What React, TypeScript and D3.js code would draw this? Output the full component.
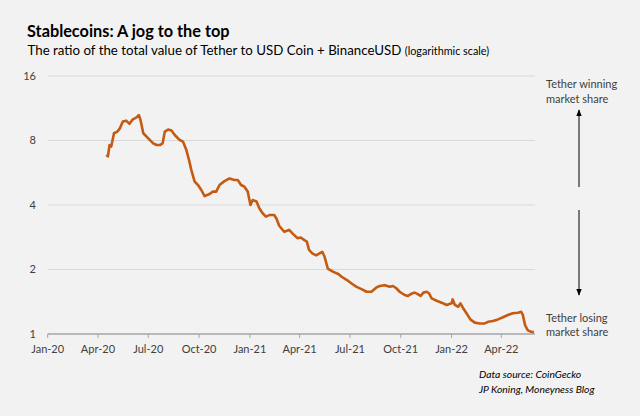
import React from 'react';
import * as d3 from 'd3';

// Tether / (USDC + BUSD) ratio
const dates = [
  '2020-04-16', '2020-04-19', '2020-04-22', '2020-04-25', '2020-04-30', '2020-05-06', '2020-05-10',
  '2020-05-16', '2020-05-22', '2020-05-28', '2020-06-02', '2020-06-10', '2020-06-14', '2020-06-17',
  '2020-06-22', '2020-07-01', '2020-07-10', '2020-07-16', '2020-07-22', '2020-07-27', '2020-07-31',
  '2020-08-06', '2020-08-12', '2020-08-18', '2020-08-27', '2020-09-02', '2020-09-08', '2020-09-13',
  '2020-09-17', '2020-09-23', '2020-09-29', '2020-10-05', '2020-10-11', '2020-10-20', '2020-10-26',
  '2020-11-01', '2020-11-07', '2020-11-16', '2020-11-25', '2020-12-04', '2020-12-10', '2020-12-16',
  '2020-12-22', '2020-12-28', '2021-01-02', '2021-01-06', '2021-01-13', '2021-01-18', '2021-01-24',
  '2021-01-30', '2021-02-05', '2021-02-14', '2021-02-18', '2021-02-23', '2021-03-04', '2021-03-13',
  '2021-03-19', '2021-03-28', '2021-04-03', '2021-04-09', '2021-04-14', '2021-04-18', '2021-04-24',
  '2021-05-01', '2021-05-07', '2021-05-12', '2021-05-16', '2021-05-22', '2021-06-01', '2021-06-10',
  '2021-06-16', '2021-06-25', '2021-07-04', '2021-07-13', '2021-07-22', '2021-07-31', '2021-08-09',
  '2021-08-18', '2021-08-24', '2021-09-02', '2021-09-11', '2021-09-17', '2021-09-23', '2021-09-29',
  '2021-10-08', '2021-10-14', '2021-10-20', '2021-10-26', '2021-10-31', '2021-11-06', '2021-11-11',
  '2021-11-17', '2021-11-21', '2021-11-26', '2021-12-05', '2021-12-14', '2021-12-23', '2022-01-01',
  '2022-01-03', '2022-01-07', '2022-01-13', '2022-01-17', '2022-01-22', '2022-01-28', '2022-02-04',
  '2022-02-12', '2022-02-21', '2022-03-02', '2022-03-08', '2022-03-17', '2022-03-26', '2022-04-04',
  '2022-04-13', '2022-04-22', '2022-05-01', '2022-05-07', '2022-05-10', '2022-05-14', '2022-05-19',
  '2022-05-25', '2022-05-30',
];

const ratio = [
  6.85, 6.75, 7.62, 7.5, 8.65, 8.8, 9.06,
  9.8, 9.9, 9.57, 9.98, 10.27, 10.5, 9.98,
  8.65, 8.19, 7.76, 7.62, 7.62, 7.76, 8.8,
  9.0, 8.9, 8.49, 8.04, 7.9, 7.22, 6.45,
  5.82, 5.14, 4.96, 4.7, 4.4, 4.5, 4.62,
  4.62, 4.96, 5.17, 5.32, 5.23, 5.23, 4.96,
  4.87, 4.62, 4.0, 4.22, 4.15, 3.86, 3.66,
  3.53, 3.59, 3.59, 3.46, 3.2, 3.0, 3.06,
  2.95, 2.8, 2.82, 2.75, 2.7, 2.47, 2.38,
  2.33, 2.38, 2.42, 2.3, 2.02, 1.95, 1.905,
  1.85, 1.79, 1.72, 1.66, 1.62, 1.575, 1.575,
  1.65, 1.675, 1.69, 1.66, 1.675, 1.635, 1.575,
  1.52, 1.505, 1.54, 1.56, 1.54, 1.505, 1.56,
  1.575, 1.55, 1.467, 1.43, 1.4, 1.366, 1.39,
  1.45, 1.366, 1.34, 1.39, 1.32, 1.25, 1.17,
  1.13, 1.12, 1.12, 1.14, 1.15, 1.17, 1.197,
  1.227, 1.25, 1.257, 1.27, 1.227, 1.1, 1.04,
  1.025, 1.02,
];

const yTicks = [1, 2, 4, 8, 16];
const xTickLabels = ['Jan-20', 'Apr-20', 'Jul-20', 'Oct-20', 'Jan-21', 'Apr-21', 'Jul-21', 'Oct-21', 'Jan-22', 'Apr-22'];
const xTickDates = ['2020-01-01', '2020-04-01', '2020-07-01', '2020-10-01', '2021-01-01', '2021-04-01', '2021-07-01', '2021-10-01', '2022-01-01', '2022-04-01'];

const W = 640;
const H = 416;
const font = 'Lato, "Open Sans", sans-serif';
const textColor = '#404040';

export default function App() {
  const parse = d3.utcParse('%Y-%m-%d');

  const x = d3.scaleUtc()
    .domain([parse('2020-01-01')!, parse('2022-06-01')!])
    .range([47.7, 535]);

  const y = d3.scaleLog()
    .base(2)
    .domain([1, 16])
    .range([334, 76]);

  const points = dates.map((d, i) => ({ date: parse(d)!, value: ratio[i] }));

  const line = d3.line<{ date: Date; value: number }>()
    .x(d => x(d.date))
    .y(d => y(d.value));

  const [x0, x1] = x.range();
  const arrowX = 579;

  return (
    <>
      <style>{'body{margin:0;background:#f2f2f2}'}</style>
      <svg width={W} height={H} style={{ display: 'block', background: '#f2f2f2' }} fontFamily={font}>
        <defs>
          <marker id="arrow" viewBox="0 0 10 10" refX="9" refY="5" markerWidth="7" markerHeight="7" orient="auto-start-reverse">
            <path d="M0,1 L10,5 L0,9 z" fill="#000" />
          </marker>
        </defs>

        {/* titles */}
        <text x={27} y={36.5} fontSize={16.3} fontWeight="bold" fill="#000">Stablecoins: A jog to the top</text>
        <text x={27.5} y={54.5} fontSize={13.3} fill="#000">
          The ratio of the total value of Tether to USD Coin + BinanceUSD{' '}
          <tspan fontSize={10.8}>(logarithmic scale)</tspan>
        </text>

        {/* gridlines */}
        {yTicks.filter(t => t > 1).map(t => (
          <line key={t} x1={x0} x2={x1} y1={y(t)} y2={y(t)} stroke="#d9d9d9" strokeWidth={1} />
        ))}

        {/* y labels */}
        {yTicks.map(t => (
          <text key={t} x={36} y={y(t)} dy="0.35em" textAnchor="end" fontSize={11} fill={textColor}>{t}</text>
        ))}

        {/* x axis */}
        <line x1={x0} x2={x1} y1={y(1)} y2={y(1)} stroke="#a6a6a6" strokeWidth={1.5} />
        {xTickDates.map((d, i) => {
          const px = x(parse(d)!);
          return (
            <g key={d}>
              <line x1={px} x2={px} y1={y(1)} y2={y(1) + 4} stroke="#a6a6a6" strokeWidth={1} />
              <text x={px} y={353} textAnchor="middle" fontSize={11} fill={textColor}>{xTickLabels[i]}</text>
            </g>
          );
        })}

        {/* series */}
        <path d={line(points) ?? ''} fill="none" stroke="#c55a11" strokeWidth={2.6} strokeLinejoin="round" />

        {/* annotations */}
        <text x={546} y={88} fontSize={11} fill={textColor}>Tether winning</text>
        <text x={546} y={102.5} fontSize={11} fill={textColor}>market share</text>
        <line x1={arrowX} x2={arrowX} y1={187} y2={110} stroke="#000" strokeWidth={1} markerEnd="url(#arrow)" />
        <line x1={arrowX} x2={arrowX} y1={210} y2={295} stroke="#000" strokeWidth={1} markerEnd="url(#arrow)" />
        <text x={546} y={321.5} fontSize={11} fill={textColor}>Tether losing</text>
        <text x={546} y={336} fontSize={11} fill={textColor}>market share</text>

        {/* source */}
        <text x={479} y={378} fontSize={10.3} fontStyle="italic" fill="#000">Data source: CoinGecko</text>
        <text x={479} y={392.5} fontSize={10.3} fontStyle="italic" fill="#000">JP Koning, Moneyness Blog</text>
      </svg>
    </>
  );
}
